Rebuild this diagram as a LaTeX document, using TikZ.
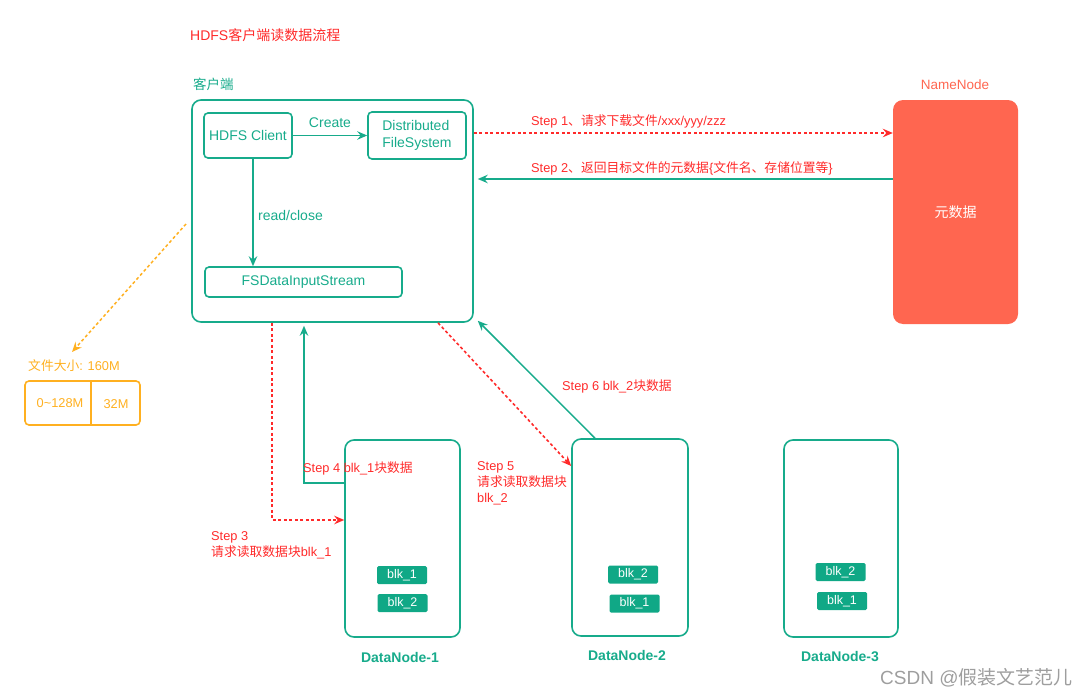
\documentclass[tikz,border=0pt]{standalone}
\usepackage{fontspec}
\setmainfont{Liberation Sans}
\newfontfamily\cjkfont{Noto Sans CJK SC}
\newcommand{\zh}[1]{{\cjkfont #1}}
\usepackage{tikz}
\usetikzlibrary{arrows.meta}
\usetikzlibrary{calc}

\definecolor{hdteal}{HTML}{17AB8B}
\definecolor{hdblk}{HTML}{10A886}
\definecolor{hdred}{HTML}{FF2A2A}
\definecolor{hdname}{HTML}{FF6650}
\definecolor{hdorange}{HTML}{FFB020}
\definecolor{hdgray}{HTML}{9E9E9E}

\begin{document}
\begin{tikzpicture}[x=1pt,y=-1pt,>={Stealth[length=10pt,width=8.5pt,inset=3.5pt]},
	hdbox/.style={draw=hdteal,line width=1.6pt,rounded corners=4pt,inner sep=0pt},
	hdnode/.style={draw=hdteal,line width=1.6pt,rounded corners=9pt,inner sep=0pt,minimum width=115pt,minimum height=197pt},
	blkbox/.style={fill=hdblk,text=white,rounded corners=1.5pt,minimum width=50pt,minimum height=18pt,inner sep=0pt,font=\fontsize{12.5}{14}\selectfont},
	steplabel/.style={text=hdred,anchor=west,inner sep=0pt,align=left,font=\fontsize{12.8}{16}\selectfont},
	tealline/.style={->,draw=hdteal,line width=1.5pt},
	redline/.style={->,draw=hdred,line width=1.6pt,dash pattern=on 3pt off 2.5pt}]
	\useasboundingbox (0,0) rectangle (1087,696);
	%\draw[help lines] (0,0) grid[step=50] (1087,696);

	\node[text=hdred,anchor=west,inner sep=0pt,font=\fontsize{14}{16}\selectfont] (title) at (190,35) {HDFS\zh{客户端读数据流程}};

	% client
	\node[text=hdteal,anchor=west,inner sep=0pt,font=\fontsize{13.5}{16}\selectfont] (clientlabel) at (193,84) {\zh{客户端}};
	\node[draw=hdteal,line width=1.6pt,rounded corners=9pt,minimum width=281pt,minimum height=222pt] (client) at (332.5,211) {};
	\node[hdbox,minimum width=88pt,minimum height=45pt,text=hdteal,font=\fontsize{14}{16}\selectfont] (hdfs) at (248,135.5) {HDFS Client};
	\node[hdbox,minimum width=98pt,minimum height=47pt,text=hdteal,align=left,font=\fontsize{14}{17}\selectfont] (dfs) at (417,135.5) {Distributed\\FileSystem};
	\node[hdbox,minimum width=197pt,minimum height=30pt,text=hdteal,font=\fontsize{14}{16}\selectfont] (fsdis) at (303.5,282) {FSDataInputStream};
	\draw[tealline] (hdfs.east) -- (dfs.west) node[midway,above=4pt,text=hdteal,font=\fontsize{14}{16}\selectfont] (create) {Create};
	\draw[tealline] ([xshift=5pt]hdfs.south) -- ([xshift=5pt]hdfs.south |- fsdis.north);
	\node[text=hdteal,anchor=west,inner sep=0pt,font=\fontsize{14}{16}\selectfont] (readclose) at (258,215) {read/close};

	% namenode
	\node[text=hdname,inner sep=0pt,font=\fontsize{13.5}{16}\selectfont] (nnlabel) at (955,85) {NameNode};
	\node[fill=hdname,rounded corners=10pt,minimum width=125pt,minimum height=224pt,text=white,font=\fontsize{14}{16}\selectfont] (namenode) at (955.5,212) {\zh{元数据}};

	\draw[redline] ([yshift=78pt]client.east) -- ([yshift=79pt]namenode.west);
	\node[steplabel] (step1) at (531,121) {Step 1\zh{、请求下载文件}/xxx/yyy/zzz};
	\draw[tealline] ([yshift=33pt]namenode.west) -- ([shift={(4pt,32pt)}]client.east);
	\node[steplabel] (step2) at (531,168) {Step 2\zh{、返回目标文件的元数据}\{\zh{文件名、存储位置等}\}};

	% file
	\coordinate (fa) at (186,224);
	\coordinate (fb) at (72,352);
	\draw[->,draw=hdorange,line width=1.5pt,dash pattern=on 3pt off 2.5pt] (fa) -- (fb);
	\node[text=hdorange,anchor=west,inner sep=0pt,font=\fontsize{12.8}{16}\selectfont] (filelabel) at (28,366) {\zh{文件大小}: 160M};
	\node[draw=hdorange,line width=1.6pt,rounded corners=4pt,minimum width=115pt,minimum height=44pt] (file) at (82.5,403) {};
	\draw[draw=hdorange,line width=1.6pt] (file.north west) ++(67pt,0) -- ++(0,44);
	\node[text=hdorange,font=\fontsize{12.8}{16}\selectfont] (part1) at (60,403) {0\textasciitilde128M};
	\node[text=hdorange,font=\fontsize{12.8}{16}\selectfont] (part2) at (116,404) {32M};

	% datanodes
	\node[hdnode] (dn1) at (402.5,538.5) {};
	\node[hdnode,minimum width=116pt] (dn2) at (630,537.5) {};
	\node[hdnode,minimum width=114pt] (dn3) at (841,538.5) {};
	\node[blkbox] (dn1a) at (402,575) {blk\_1};
	\node[blkbox] (dn1b) at (402.5,603) {blk\_2};
	\node[blkbox] (dn2a) at (633,574.5) {blk\_2};
	\node[blkbox] (dn2b) at (634.5,603.5) {blk\_1};
	\node[blkbox] (dn3a) at (840.5,572) {blk\_2};
	\node[blkbox] (dn3b) at (842,601) {blk\_1};
	\foreach \n/\x/\y in {1/400/657,2/627/655,3/840/656}
		\node[text=hdteal,font=\bfseries\fontsize{14}{16}\selectfont] (dnlabel\n) at (\x,\y) {DataNode-\n};

	% steps 3-6
	\draw[redline] ([xshift=-60.5pt]client.south) |- ([yshift=18.5pt]dn1.west);
	\node[steplabel] (step3) at (211,545) {Step 3\\\zh{请求读取数据块}blk\_1};
	\draw[tealline] ([yshift=55.5pt]dn1.west) -| ([shift={(-28.5pt,-3pt)}]client.south);
	\node[steplabel] (step4) at (303,468) {Step 4 blk\_1\zh{块数据}};
	\draw[redline] ([xshift=105.5pt]client.south) -- ([yshift=71.5pt]dn2.west);
	\node[steplabel] (step5) at (477,483) {Step 5\\\zh{请求读取数据块}\\blk\_2};
	\draw[tealline] ([xshift=-35pt]dn2.north) -- ([shift={(4pt,2pt)}]client.south east);
	\node[steplabel] (step6) at (562,386) {Step 6 blk\_2\zh{块数据}};

	\node[text=hdgray,anchor=west,inner sep=0pt,font=\fontsize{19}{22}\selectfont] (mark) at (880,678) {CSDN @\zh{假装文艺范儿}};
\end{tikzpicture}
\end{document}
